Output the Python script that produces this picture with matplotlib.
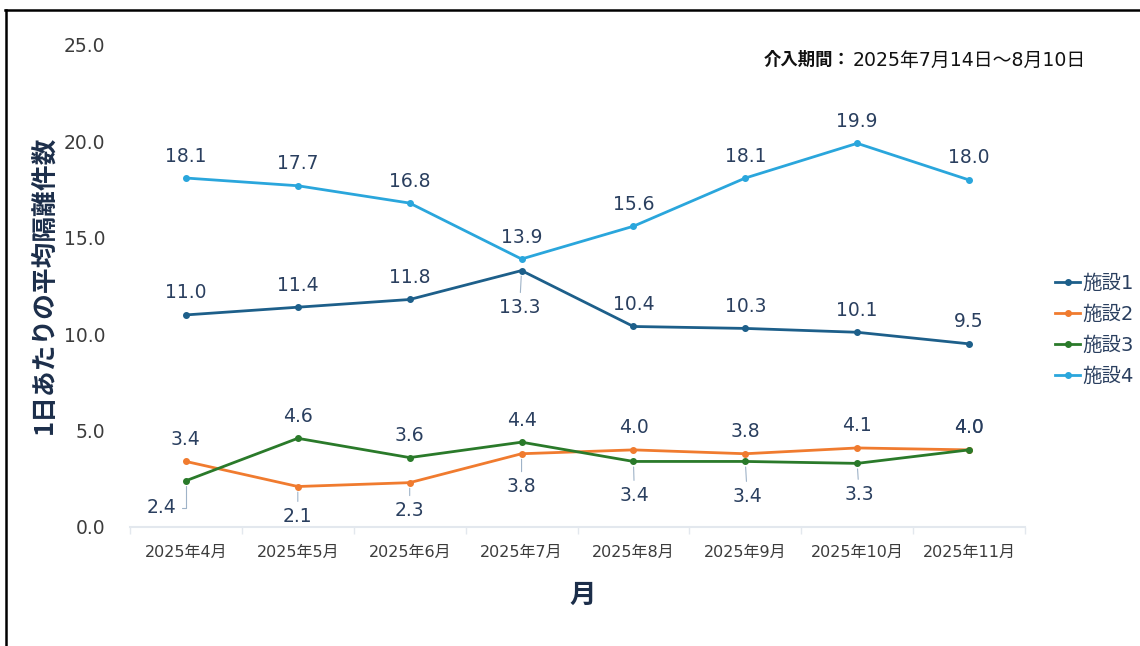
import matplotlib
matplotlib.use('Agg')
import matplotlib.pyplot as plt
from matplotlib.lines import Line2D

plt.rcParams['font.family'] = ['DejaVu Sans', 'Noto Sans CJK JP']

# ---- data ----
months = ['2025年4月', '2025年5月', '2025年6月', '2025年7月',
          '2025年8月', '2025年9月', '2025年10月', '2025年11月']
series_names = ['施設1', '施設2', '施設3', '施設4']
s1 = [11.0, 11.4, 11.8, 13.3, 10.4, 10.3, 10.1, 9.5]
s2 = [3.4, 2.1, 2.3, 3.8, 4.0, 3.8, 4.1, 4.0]
s3 = [2.4, 4.6, 3.6, 4.4, 3.4, 3.4, 3.3, 4.0]
s4 = [18.1, 17.7, 16.8, 13.9, 15.6, 18.1, 19.9, 18.0]
y_ticks = [0, 5, 10, 15, 20, 25]
y_label = '1日あたりの平均隔離件数'
x_label = '月'
note_bold = '介入期間：'
note_text = '2025年7月14日～8月10日'

# ---- styles ----
colors = ['#1d5f8a', '#f07b2f', '#2a7a2a', '#2aa6dc']
label_color = '#2a3f5f'
tick_color = '#3c3c3c'
leader_color = '#9fb3c8'

# per-series label placement offsets in pixels (dx, dy); others default above
below_offsets = {
    (0, 3): (-2, -37),
    (1, 1): (0, -30),
    (1, 2): (0, -28),
    (1, 3): (0, -33),
    (2, 0): (-24, -27),
    (2, 4): (1, -34),
    (2, 5): (2, -35),
    (2, 6): (2, -31),
}

W, H = 1140, 646
fig = plt.figure(figsize=(W / 100, H / 100), dpi=100)
fig.patch.set_facecolor('white')
ax = fig.add_axes([130 / W, 1 - 527 / H, 895 / W, 482 / H])

x = list(range(len(months)))
all_series = [s1, s2, s3, s4]
for i, (vals, name) in enumerate(zip(all_series, series_names)):
    ax.plot(x, vals, color=colors[i], lw=2.0, marker='o', markersize=4.0,
            label=name, zorder=3 + i, solid_joinstyle='round')

for i, vals in enumerate(all_series):
    for j, v in enumerate(vals):
        key = (i, j)
        if key in below_offsets:
            dx, dy = below_offsets[key]
            cs = 'angle,angleA=0,angleB=90,rad=0' if key == (2, 0) else 'arc3'
            ax.annotate(f'{v:.1f}', xy=(j, v), xytext=(dx, dy),
                        textcoords='offset pixels', ha='center', va='center',
                        fontsize=13.5, color=label_color, zorder=10,
                        arrowprops=dict(arrowstyle='-', color=leader_color, lw=0.8,
                                        shrinkA=2, shrinkB=4, connectionstyle=cs))
        else:
            ax.annotate(f'{v:.1f}', xy=(j, v), xytext=(0, 22),
                        textcoords='offset pixels', ha='center', va='center',
                        fontsize=13.5, color=label_color, zorder=10)

ax.set_xlim(-0.5, len(months) - 0.5)
ax.set_ylim(0, 25)
ax.set_yticks(y_ticks)
ax.set_yticklabels([f'{t:.1f}' for t in y_ticks])
ax.set_xticks(x)
ax.set_xticklabels(months)
ax.set_xticks([k - 0.5 for k in range(len(months) + 1)], minor=True)
ax.tick_params(axis='x', which='major', length=0, pad=13, labelsize=11.5,
               labelcolor=tick_color)
ax.tick_params(axis='x', which='minor', length=5, width=1, color='#e3e8ee')
ax.tick_params(axis='y', length=0, pad=18, labelsize=13.5, labelcolor=tick_color)

for side in ['top', 'right', 'left']:
    ax.spines[side].set_visible(False)
ax.spines['bottom'].set_color('#e3e8ee')
ax.spines['bottom'].set_linewidth(1.5)
ax.spines['bottom'].set_zorder(1)

# axis titles
fig.text(44 / W, 1 - 285 / H, y_label, rotation=90, ha='center', va='center',
         fontsize=18.5, fontweight='bold', color='#1c2e4a',
         family=['Noto Sans CJK JP'])
fig.text(583 / W, 1 - 595 / H, x_label, ha='center', va='center',
         fontsize=19, fontweight='bold', color='#1c2e4a',
         family=['Noto Sans CJK JP'])

# note
fig.text(851 / W, 1 - 60 / H, note_bold, ha='right', va='center', fontsize=12.5,
         fontweight='bold', color='#111111', family=['Noto Sans CJK JP'])
fig.text(853 / W, 1 - 60 / H, note_text, ha='left', va='center', fontsize=13.6,
         color='#111111')

# legend
leg = fig.legend(loc='center left', bbox_to_anchor=(1055 / W, 1 - 330 / H),
                 frameon=False, fontsize=14, handlelength=1.3, handletextpad=0.1,
                 labelspacing=0.62, borderaxespad=0, borderpad=0)
for t in leg.get_texts():
    t.set_color(label_color)

# screenshot border
fig.add_artist(Line2D([5 / W, 1], [1 - 10 / H, 1 - 10 / H], transform=fig.transFigure,
                      color='black', lw=1.8))
fig.add_artist(Line2D([6 / W, 6 / W], [0, 1 - 10 / H], transform=fig.transFigure,
                      color='black', lw=1.8))

fig.savefig('out.png', dpi=100, facecolor='white')
